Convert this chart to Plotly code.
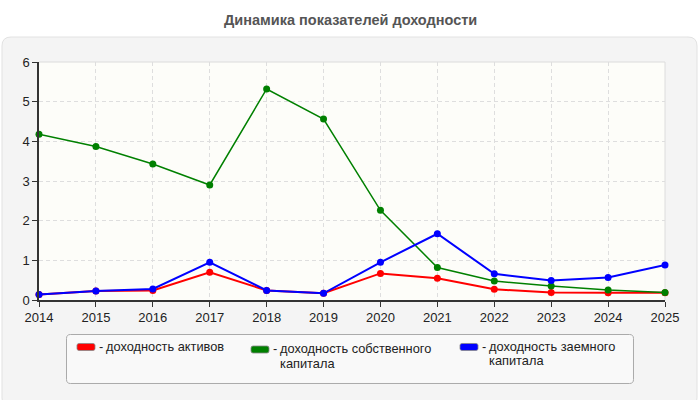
import plotly.graph_objects as go

years = [2014, 2015, 2016, 2017, 2018, 2019, 2020, 2021, 2022, 2023, 2024, 2025]
roa = [0.14, 0.23, 0.24, 0.70, 0.24, 0.17, 0.67, 0.55, 0.27, 0.19, 0.18, 0.18]
roe = [4.18, 3.87, 3.43, 2.90, 5.32, 4.56, 2.26, 0.82, 0.48, 0.35, 0.25, 0.19]
rod = [0.14, 0.23, 0.28, 0.95, 0.24, 0.17, 0.95, 1.67, 0.66, 0.49, 0.57, 0.88]

series_names = ["доходность активов", "доходность собственного\nкапитала", "доходность заемного\nкапитала"]
series_colors = ["#ff0000", "#008000", "#0000ff"]
series_values = [roa, roe, rod]
title_text = "Динамика показателей доходности"

W, H = 700, 400
L, R, T, B = 39, 35, 62, 100
PW, PH = W - L - R, H - T - B
FONT = "Liberation Sans"

def px(x):
    return (x - L) / PW

def py(y):
    return (H - B - y) / PH

fig = go.Figure()
widths = [2, 1.5, 2]
for name, color, vals, w in zip(series_names, series_colors, series_values, widths):
    fig.add_trace(go.Scatter(
        x=years, y=vals, mode="lines+markers", name=name.replace("\n", " "),
        line=dict(color=color, width=w), marker=dict(color=color, size=7),
        showlegend=False, cliponaxis=False))

def rounded_path(x0, y0, x1, y1, r):
    X = lambda v: f"{px(v):.5f}"
    Y = lambda v: f"{py(v):.5f}"
    return (f"M {X(x0 + r)},{Y(y0)} L {X(x1 - r)},{Y(y0)} Q {X(x1)},{Y(y0)} {X(x1)},{Y(y0 + r)} "
            f"L {X(x1)},{Y(y1 - r)} Q {X(x1)},{Y(y1)} {X(x1 - r)},{Y(y1)} "
            f"L {X(x0 + r)},{Y(y1)} Q {X(x0)},{Y(y1)} {X(x0)},{Y(y1 - r)} "
            f"L {X(x0)},{Y(y0 + r)} Q {X(x0)},{Y(y0)} {X(x0 + r)},{Y(y0)} Z")

shapes = [
    dict(type="path", xref="paper", yref="paper", path=rounded_path(2, 37, 697, 407, 9),
         fillcolor="#f4f4f4", line=dict(color="#e2e2e2", width=1), layer="below"),
    dict(type="rect", xref="paper", yref="paper", x0=0, x1=1, y0=0, y1=1,
         fillcolor="#fdfdf9", line=dict(width=0), layer="below"),
    dict(type="line", xref="paper", yref="paper", x0=0, x1=1, y0=1, y1=1,
         line=dict(color="#dcdcdc", width=1), layer="below"),
    dict(type="line", xref="paper", yref="paper", x0=1, x1=1, y0=0, y1=1,
         line=dict(color="#dcdcdc", width=1), layer="below"),
    dict(type="path", xref="paper", yref="paper", path=rounded_path(66.5, 334.5, 633.5, 383.5, 4),
         fillcolor="#f9f9f9", line=dict(color="#aaaaaa", width=1), layer="below"),
]

annotations = [dict(text=f"<b>{title_text}</b>", x=px(350), y=py(20), xref="paper", yref="paper",
                    showarrow=False, xanchor="center", yanchor="middle",
                    font=dict(family=FONT, size=14.5, color="#555555"))]

leg_x = [77, 251, 460]
leg_dy = [0, 2.5, 0]
LEG_FS = 12.8
for i, (name, color) in enumerate(zip(series_names, series_colors)):
    x0 = leg_x[i]
    yc = 347 + leg_dy[i]
    shapes.append(dict(type="path", xref="paper", yref="paper",
                       path=rounded_path(x0, yc - 3.5, x0 + 18, yc + 3.5, 2),
                       fillcolor=color, line=dict(color="#888888", width=0.8)))
    annotations.append(dict(text="-", x=px(x0 + 20), y=py(yc - 1), xref="paper", yref="paper",
                            showarrow=False, xanchor="left", yanchor="middle",
                            font=dict(family=FONT, size=LEG_FS, color="#222222")))
    for j, line in enumerate(name.split("\n")):
        annotations.append(dict(text=line, x=px(x0 + 27), y=py(yc - 1 + j * 14.8), xref="paper", yref="paper",
                                showarrow=False, xanchor="left", yanchor="middle",
                                font=dict(family=FONT, size=LEG_FS, color="#222222")))

axis_common = dict(showgrid=True, gridcolor="#dedede", griddash="4px,3px", gridwidth=1,
                   showline=True, linecolor="#333333", linewidth=1.5,
                   ticks="outside", ticklen=5, tickcolor="#333333", zeroline=False,
                   tickfont=dict(family=FONT, size=13, color="#222222"))

fig.update_layout(
    width=W, height=H, autosize=False,
    margin=dict(l=L, r=R, t=T, b=B, pad=0),
    paper_bgcolor="#ffffff", plot_bgcolor="rgba(0,0,0,0)",
    font=dict(family=FONT, size=13, color="#333333"),
    shapes=shapes, annotations=annotations,
    xaxis=dict(range=[2014, 2025], tickmode="array", tickvals=years, ticktext=[str(y) for y in years],
               **axis_common),
    yaxis=dict(range=[0, 6], tickmode="linear", tick0=0, dtick=1, **axis_common),
)

fig.write_html("out.html")
